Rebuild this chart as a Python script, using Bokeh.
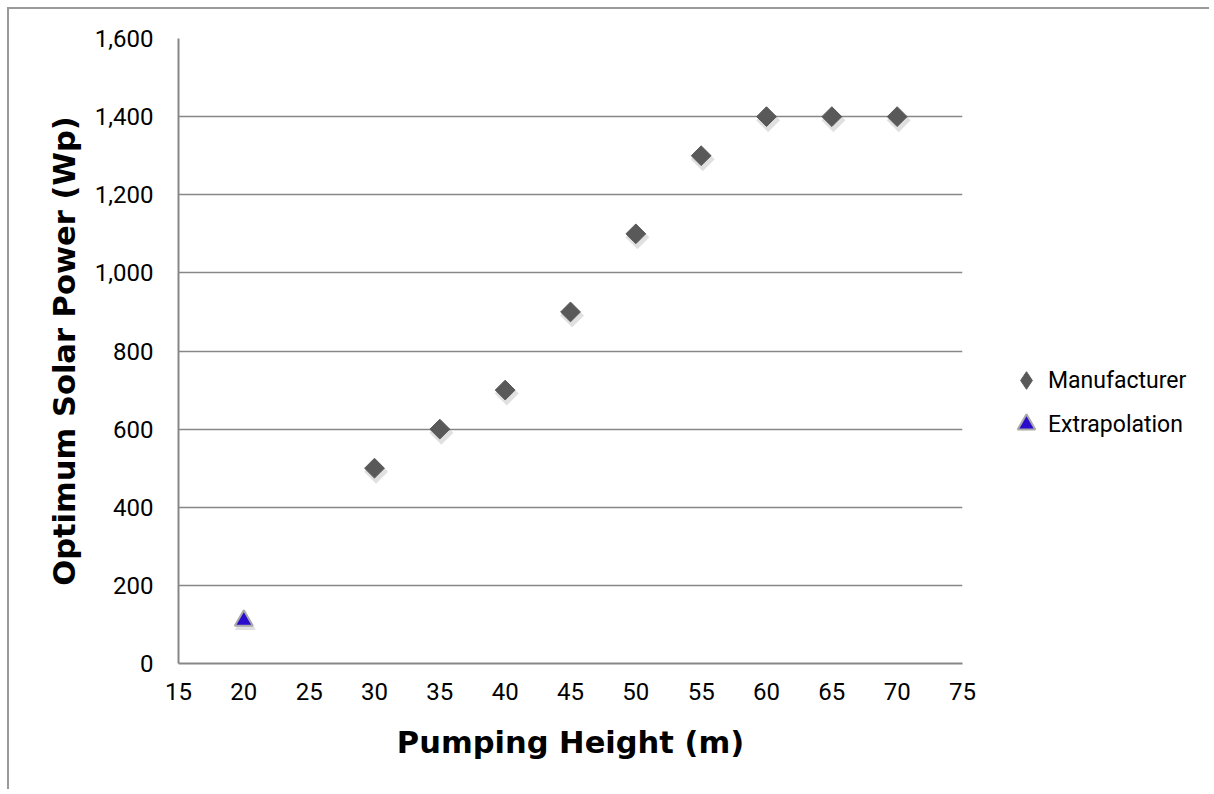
import math
from bokeh.plotting import figure
from bokeh.layouts import row
from bokeh.models import (ColumnDataSource, Legend, LegendItem, FixedTicker,
                          NumeralTickFormatter, Range1d)
from bokeh.transform import dodge
from bokeh.embed import file_html
from bokeh.resources import INLINE

# data
manu_height = [30, 35, 40, 45, 50, 55, 60, 65, 70]
manu_power = [500, 600, 700, 900, 1100, 1300, 1400, 1400, 1400]
extra_height = [20]
extra_power = [110]
x_ticks = [15, 20, 25, 30, 35, 40, 45, 50, 55, 60, 65, 70, 75]
y_ticks = [0, 200, 400, 600, 800, 1000, 1200, 1400, 1600]

manu_style = dict(marker="square", size=14, angle=math.pi / 4,
                  fill_color="#595959", line_color="#595959")
extra_style = dict(marker="triangle", size=18, fill_color="#2a0ccc",
                   line_color="#a8a8a8", line_width=2)

p = figure(width=973, height=780, output_backend="svg", toolbar_location=None,
           x_range=Range1d(15, 75), y_range=Range1d(0, 1600),
           min_border_left=169, min_border_top=29, min_border_bottom=126,
           min_border_right=20)
p.outline_line_color = None
p.background_fill_color = "white"
p.border_fill_color = "white"

grid_col = "#878787"
p.xgrid.grid_line_color = None
p.ygrid.grid_line_color = grid_col
p.ygrid.grid_line_width = 1.6
p.ygrid.ticker = FixedTicker(ticks=y_ticks)

p.xaxis.ticker = FixedTicker(ticks=x_ticks)
p.yaxis.ticker = FixedTicker(ticks=y_ticks)
p.yaxis.formatter = NumeralTickFormatter(format="0,0")

for ax in (p.xaxis[0], p.yaxis[0]):
    ax.axis_line_color = grid_col
    ax.axis_line_width = 2
    ax.major_tick_in = 0
    ax.major_tick_out = 0
    ax.minor_tick_in = 0
    ax.minor_tick_out = 0
    ax.major_label_text_font = "Roboto"
    ax.major_label_text_font_size = "24px"
    ax.major_label_text_color = "#000000"
    ax.axis_label_text_font = "DejaVu Sans"
    ax.axis_label_text_font_style = "bold"
    ax.axis_label_text_font_size = "30.5px"
    ax.axis_label_text_color = "#000000"

p.xaxis.axis_label = "Pumping Height (m)"
p.yaxis.axis_label = "Optimum Solar Power (Wp)"
p.xaxis.major_label_standoff = 19
p.yaxis.major_label_standoff = 25
p.xaxis.axis_label_standoff = 22
p.yaxis.axis_label_standoff = 10

src_m = ColumnDataSource(dict(x=manu_height, y=manu_power))
src_e = ColumnDataSource(dict(x=extra_height, y=extra_power))

# soft drop shadows under the markers
for src, st in ((src_m, manu_style), (src_e, extra_style)):
    p.scatter(x=dodge("x", 0.12), y=dodge("y", -9), source=src,
              marker=st["marker"], size=st["size"] + 3, angle=st.get("angle", 0),
              fill_color="#000000", fill_alpha=0.12, line_color=None)

p.scatter("x", "y", source=src_m, **manu_style)
p.scatter("x", "y", source=src_e, **extra_style)

# legend panel (separate canvas to the right of the plot frame);
# its ranges keep the series out of view, only the legend shows
lg = figure(width=227, height=780, output_backend="svg", toolbar_location=None,
            x_axis_location=None, y_axis_location=None,
            x_range=Range1d(-2, -1), y_range=Range1d(-2, -1),
            min_border=0, min_border_left=0, min_border_right=0,
            min_border_top=0, min_border_bottom=0)
lg.outline_line_color = None
lg.xgrid.visible = False
lg.ygrid.visible = False
lg.background_fill_color = "white"
lg.border_fill_color = "white"
lm = lg.scatter("x", "y", source=src_m, marker="diamond",
                fill_color="#595959", line_color="#595959")
le = lg.scatter("x", "y", source=src_e, marker="triangle",
                fill_color="#2a0ccc", line_color="#a8a8a8", line_width=2)

legend = Legend(items=[LegendItem(label="Manufacturer", renderers=[lm]),
                       LegendItem(label="Extrapolation", renderers=[le])],
                location=(22, 217), border_line_color=None,
                background_fill_alpha=0,
                label_text_font="Roboto", label_text_color="#000000",
                label_text_font_size="23px", spacing=0,
                glyph_width=44, glyph_height=44, label_standoff=-5,
                padding=0, margin=0)
lg.add_layout(legend)

layout = row(p, lg, spacing=0)
layout.styles = {"margin-left": "7px", "margin-top": "7px",
                 "border-left": "2px solid #9a9a9a", "border-top": "2px solid #9a9a9a"}

open("out.html", "w").write(file_html(layout, INLINE))
